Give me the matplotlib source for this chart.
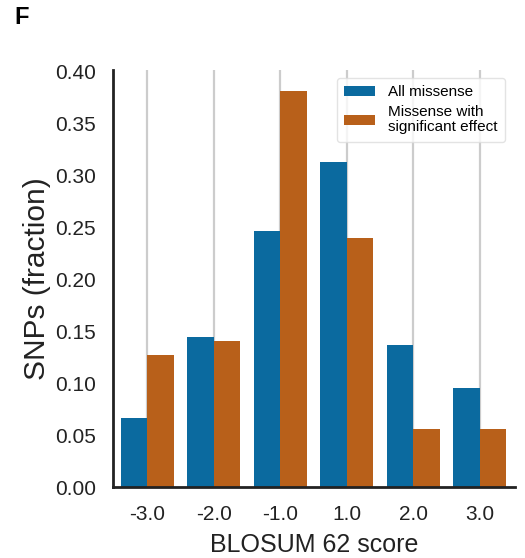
import matplotlib
matplotlib.use("Agg")
import matplotlib.pyplot as plt
import numpy as np

plt.rcParams['font.family'] = ['Liberation Sans', 'DejaVu Sans']

# BLOSUM 62 score categories and fractions
scores = ["-3.0", "-2.0", "-1.0", "1.0", "2.0", "3.0"]
all_missense = [0.067, 0.145, 0.247, 0.313, 0.137, 0.095]
significant = [0.127, 0.141, 0.382, 0.240, 0.056, 0.056]

blue = '#0b6a9f'
orange = '#b8601a'

fig = plt.figure(figsize=(5.25, 5.58), dpi=100)
ax = fig.add_axes([0.215, 0.127, 0.766, 0.748])

x = np.arange(len(scores))
w = 0.4
ax.bar(x - w / 2, all_missense, w, color=blue, label='All missense', zorder=2)
ax.bar(x + w / 2, significant, w, color=orange,
       label='Missense with\nsignificant effect', zorder=2)

ax.set_xticks(x)
ax.set_xticklabels(scores)
ax.set_xlim(-0.52, 5.53)
ax.set_ylim(0, 0.402)
ax.set_yticks(np.arange(0, 0.41, 0.05))
ax.set_yticklabels(['%.2f' % v for v in np.arange(0, 0.41, 0.05)])

ax.grid(axis='x', color='#cccccc', linewidth=1.6, zorder=0)
ax.set_axisbelow(True)
for s in ['top', 'right']:
    ax.spines[s].set_visible(False)
for s in ['left', 'bottom']:
    ax.spines[s].set_linewidth(2)
    ax.spines[s].set_color('#222222')
ax.tick_params(length=0, labelsize=15, colors='#222222')
ax.tick_params(axis='x', pad=13)
ax.tick_params(axis='y', pad=12)

ax.set_xlabel('BLOSUM 62 score', fontsize=18, color='#222222', labelpad=6)
ax.set_ylabel('SNPs (fraction)', fontsize=21.5, color='#222222', labelpad=3)

leg = ax.legend(loc='upper right', fontsize=11, frameon=True,
                handlelength=2.0, handleheight=0.7, borderaxespad=0,
                labelspacing=0.4, handletextpad=0.85, borderpad=0.5,
                bbox_to_anchor=(0.975, 0.981))
leg.get_frame().set_edgecolor('#dddddd')
for t in leg.get_texts():
    t.set_linespacing(1.08)

fig.text(0.028, 0.968, 'F', fontsize=17, fontweight='bold', va='center')

fig.savefig('out.png', dpi=100)
